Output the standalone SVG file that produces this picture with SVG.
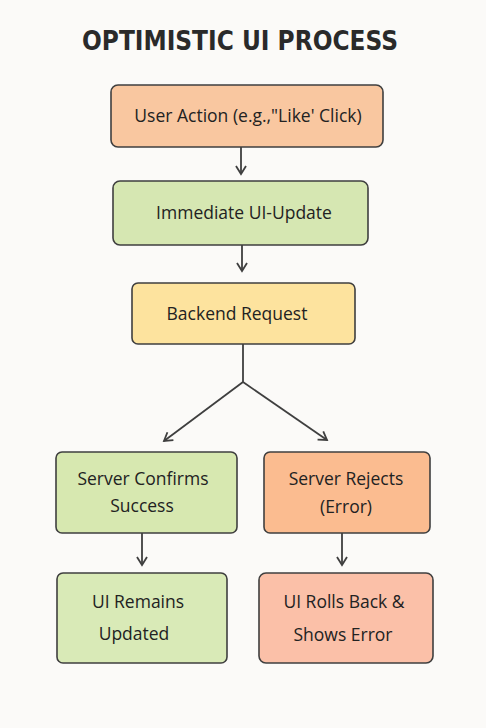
<svg xmlns="http://www.w3.org/2000/svg" width="486" height="728" viewBox="0 0 486 728">
<style>
.bg{fill:#fbfaf8}
.box{stroke:#3f3f3f;stroke-width:1.6}
.t{font-family:"Open Sans","Liberation Sans",sans-serif;font-size:17.5px;fill:#222;text-anchor:middle}
.title{font-family:"DejaVu Sans","Liberation Sans",sans-serif;font-weight:bold;font-size:27px;fill:#2a2a2a;text-anchor:middle}
.c{stroke:#3f3f3f;stroke-width:1.8;fill:none}
</style>
<defs>
<marker id="ah" viewBox="0 0 12 12" refX="10" refY="6" markerWidth="12" markerHeight="12" markerUnits="userSpaceOnUse" orient="auto">
<path d="M2,1 L10,6 L2,11" fill="none" stroke="#3f3f3f" stroke-width="1.8"/>
</marker>
</defs>
<rect class="bg" x="0" y="0" width="486" height="728"/>
<text class="title" x="240" y="50" textLength="316" lengthAdjust="spacingAndGlyphs">OPTIMISTIC UI PROCESS</text>
<g id="connectors">
<line class="c" x1="241" y1="147" x2="241" y2="174" marker-end="url(#ah)"/>
<line class="c" x1="242" y1="245" x2="242" y2="271" marker-end="url(#ah)"/>
<polyline class="c" points="243,344 243,382"/>
<line class="c" x1="243" y1="382" x2="164" y2="441" marker-end="url(#ah)"/>
<line class="c" x1="243" y1="382" x2="327" y2="440" marker-end="url(#ah)"/>
<line class="c" x1="142" y1="533" x2="142" y2="565" marker-end="url(#ah)"/>
<line class="c" x1="342" y1="533" x2="342" y2="565" marker-end="url(#ah)"/>
</g>
<g id="user-action">
<rect class="box" x="111" y="85" width="272" height="62" rx="7" fill="#f9c7a0"/>
<text class="t" x="248" y="122">User Action (e.g.,"Like' Click)</text>
</g>
<g id="immediate-update">
<rect class="box" x="113" y="181" width="255" height="64" rx="7" fill="#d6e7b2"/>
<text class="t" x="244" y="219">Immediate UI-Update</text>
</g>
<g id="backend-request">
<rect class="box" x="132" y="283" width="223" height="61" rx="6" fill="#fde39e"/>
<text class="t" x="237" y="320">Backend Request</text>
</g>
<g id="server-confirms">
<rect class="box" x="56" y="452" width="181" height="81" rx="6" fill="#d7e8b0"/>
<text class="t" x="143" y="485">Server Confirms</text>
<text class="t" x="142" y="512">Success</text>
</g>
<g id="server-rejects">
<rect class="box" x="264" y="452" width="166" height="81" rx="6" fill="#fbbc90"/>
<text class="t" x="346" y="485">Server Rejects</text>
<text class="t" x="346" y="513">(Error)</text>
</g>
<g id="ui-remains">
<rect class="box" x="57" y="573" width="170" height="90" rx="6" fill="#d9eab7"/>
<text class="t" x="138" y="608">UI Remains</text>
<text class="t" x="134" y="640">Updated</text>
</g>
<g id="ui-rolls-back">
<rect class="box" x="259" y="573" width="174" height="90" rx="7" fill="#fbc0a8"/>
<text class="t" x="344" y="608">UI Rolls Back &amp;</text>
<text class="t" x="343" y="641">Shows Error</text>
</g>
</svg>
